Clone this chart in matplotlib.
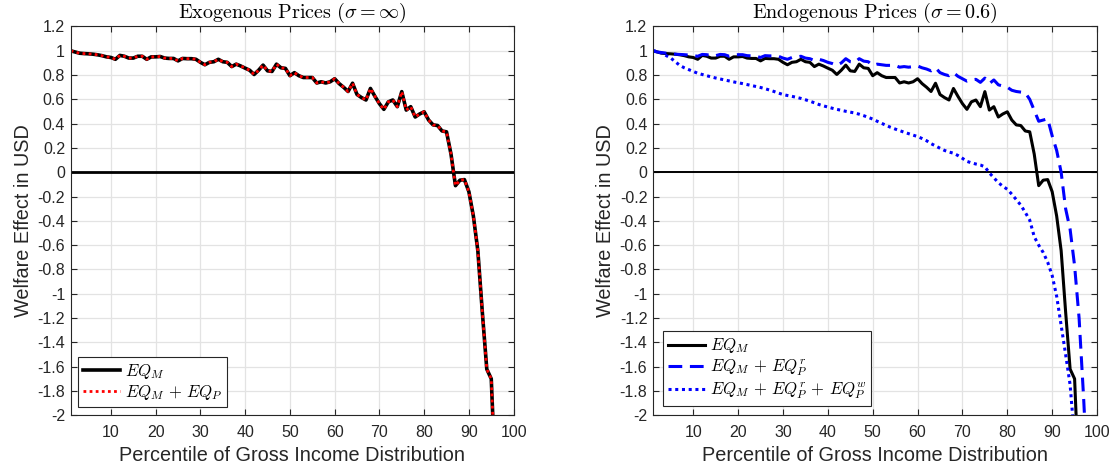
import matplotlib
matplotlib.use("Agg")
import matplotlib.pyplot as plt
import numpy as np

# welfare effect by percentile
eq_m = [1.00, 0.99, 0.98, 0.977, 0.975, 0.972, 0.967, 0.96, 0.95, 0.945,
        0.93, 0.962, 0.955, 0.94, 0.94, 0.955, 0.955, 0.93, 0.95, 0.95,
        0.953, 0.94, 0.937, 0.937, 0.917, 0.937, 0.935, 0.935, 0.93, 0.905,
        0.885, 0.905, 0.91, 0.93, 0.91, 0.905, 0.87, 0.89, 0.875, 0.857,
        0.84, 0.805, 0.84, 0.882, 0.835, 0.83, 0.89, 0.86, 0.855, 0.795,
        0.82, 0.795, 0.78, 0.78, 0.78, 0.735, 0.745, 0.735, 0.745, 0.77,
        0.73, 0.70, 0.665, 0.733, 0.64, 0.615, 0.595, 0.69, 0.625, 0.565,
        0.518, 0.58, 0.595, 0.54, 0.664, 0.512, 0.54, 0.455, 0.48, 0.498,
        0.43, 0.39, 0.385, 0.34, 0.333, 0.15, -0.11, -0.065, -0.06, -0.16,
        -0.36, -0.645, -1.15, -1.62, -1.70, -2.6]

eq_m_r = [1.0, 0.99, 0.985, 0.98, 0.975, 0.972, 0.97, 0.968, 0.965, 0.96,
          0.955, 0.97, 0.968, 0.96, 0.96, 0.97, 0.968, 0.955, 0.965, 0.968,
          0.968, 0.96, 0.958, 0.955, 0.945, 0.96, 0.958, 0.958, 0.955, 0.94,
          0.93, 0.945, 0.948, 0.955, 0.94, 0.935, 0.92, 0.93, 0.92, 0.905,
          0.895, 0.88, 0.9, 0.935, 0.91, 0.905, 0.935, 0.915, 0.91, 0.88,
          0.89, 0.885, 0.88, 0.88, 0.88, 0.865, 0.87, 0.865, 0.87, 0.875,
          0.86, 0.85, 0.835, 0.86, 0.82, 0.805, 0.795, 0.82, 0.79, 0.77,
          0.75, 0.76, 0.765, 0.74, 0.775, 0.73, 0.76, 0.72, 0.71, 0.70,
          0.675, 0.665, 0.66, 0.655, 0.6, 0.51, 0.42, 0.43, 0.44, 0.3,
          0.18, 0.0, -0.3, -0.47, -0.77, -1.2, -1.85, -2.6]

eq_m_r_w = [1.0, 0.995, 0.98, 0.96, 0.94, 0.91, 0.88, 0.86, 0.845, 0.83,
            0.815, 0.805, 0.795, 0.785, 0.776, 0.768, 0.76, 0.752, 0.744, 0.737,
            0.73, 0.722, 0.714, 0.706, 0.698, 0.688, 0.677, 0.665, 0.652, 0.64,
            0.632, 0.625, 0.617, 0.608, 0.597, 0.585, 0.572, 0.558, 0.547, 0.537,
            0.527, 0.518, 0.51, 0.502, 0.495, 0.488, 0.478, 0.466, 0.452, 0.438,
            0.42, 0.403, 0.386, 0.37, 0.356, 0.343, 0.33, 0.318, 0.306, 0.294,
            0.278, 0.26, 0.236, 0.217, 0.198, 0.18, 0.167, 0.157, 0.138, 0.115,
            0.09, 0.078, 0.068, 0.06, 0.045, -0.005, -0.045, -0.085, -0.115, -0.14,
            -0.18, -0.225, -0.27, -0.33, -0.394, -0.53, -0.6, -0.66, -0.74, -0.85,
            -1.02, -1.26, -1.5, -1.75, -2.2, -2.8]

x_ticks = [10, 20, 30, 40, 50, 60, 70, 80, 90, 100]
y_ticks = [-2, -1.8, -1.6, -1.4, -1.2, -1, -0.8, -0.6, -0.4, -0.2,
           0, 0.2, 0.4, 0.6, 0.8, 1, 1.2]

plt.rcParams['font.family'] = ['Liberation Sans', 'DejaVu Sans']
plt.rcParams['mathtext.fontset'] = 'cm'

dark = '#262626'


def style_axes(ax):
    ax.set_xlim(1, 100)
    ax.set_ylim(-2, 1.2)
    ax.set_xticks(x_ticks)
    ax.set_yticks(y_ticks)
    ax.set_yticklabels([f"{v:g}" for v in y_ticks])
    ax.grid(True, color='#e3e3e3', linewidth=0.9)
    ax.set_axisbelow(True)
    ax.tick_params(direction='in', top=True, right=True, length=4,
                   width=0.8, color=dark, labelcolor=dark, labelsize=11.5)
    ax.tick_params(axis='x', pad=7)
    ax.tick_params(axis='y', pad=4)
    for s in ax.spines.values():
        s.set_color(dark)
        s.set_linewidth(0.8)
    ax.set_xlabel('Percentile of Gross Income Distribution', fontsize=14.3,
                  color=dark, labelpad=4)
    ax.set_ylabel('Welfare Effect in USD', fontsize=14.3, color=dark, labelpad=3)


fig = plt.figure(figsize=(11.2, 4.73), dpi=100)
ax1 = fig.add_axes([0.0631, 0.122, 0.3955, 0.822])
ax2 = fig.add_axes([0.5829, 0.122, 0.3966, 0.822])

pm = np.arange(1, len(eq_m) + 1)
pr = np.arange(1, len(eq_m_r) + 1)
pw = np.arange(1, len(eq_m_r_w) + 1)

legend_kw = dict(loc='lower left', borderaxespad=0, fontsize=12,
                 handlelength=2.2, handletextpad=0.3, labelspacing=0.15,
                 borderpad=0.3, fancybox=False, framealpha=1, edgecolor=dark)

# left: exogenous prices
ax1.axhline(0, color='black', linewidth=2.0)
ax1.plot(pm, eq_m, color='black', linewidth=2.6, label=r'$EQ_M$')
ax1.plot(pm, eq_m, color='red', linewidth=2.0, linestyle=(0, (1, 1.2)),
         label=r'$EQ_M\,+\,EQ_P$')
style_axes(ax1)
ax1.set_title(r'$\mathrm{Exogenous\ Prices}\ (\sigma = \infty)$', fontsize=14.5,
              color='black', pad=6)
leg1 = ax1.legend(bbox_to_anchor=(0.0165, 0.021), **legend_kw)
leg1.get_frame().set_linewidth(0.8)

# right: endogenous prices
ax2.axhline(0, color='black', linewidth=1.4)
ax2.plot(pm, eq_m, color='black', linewidth=2.2, label=r'$EQ_M$')
ax2.plot(pr, eq_m_r, color='blue', linewidth=2.2, linestyle=(0, (4.5, 2.5)),
         label=r'$EQ_M\,+\,EQ_P^r$')
ax2.plot(pw, eq_m_r_w, color='blue', linewidth=2.2, linestyle=(0, (1, 1.2)),
         label=r'$EQ_M\,+\,EQ_P^r\,+\,EQ_P^w$')
style_axes(ax2)
ax2.set_title(r'$\mathrm{Endogenous\ Prices}\ (\sigma = 0.6)$', fontsize=14.5,
              color='black', pad=6)
leg2 = ax2.legend(bbox_to_anchor=(0.023, 0.024), **legend_kw)
leg2.get_frame().set_linewidth(0.8)

fig.savefig('out.png', dpi=100)
